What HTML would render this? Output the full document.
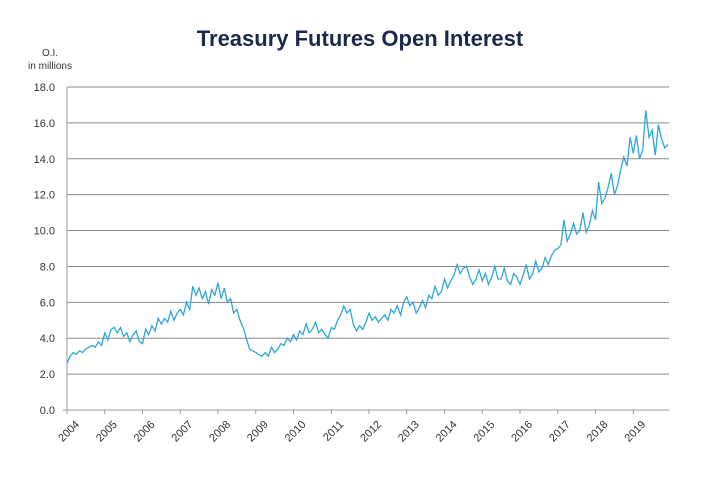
<!DOCTYPE html>
<html><head><meta charset="utf-8"><style>
body{margin:0;background:#fff;font-family:"Liberation Sans",sans-serif}
svg{display:block}
</style></head><body>
<svg id="chart" width="720" height="500">
<text x="360" y="46" text-anchor="middle" font-size="22" font-weight="bold" fill="#1b2a4a">Treasury Futures Open Interest</text>
<text x="50" y="56" text-anchor="middle" font-size="10" fill="#333">O.I.</text>
<text x="50" y="69" text-anchor="middle" font-size="10" fill="#333">in millions</text>
<g id="grid"></g><g id="xax"></g>
<path id="line" fill="none" stroke="#2ea6d8" stroke-width="1.3"/>
</svg>
<script>
const yTicks=[0,2,4,6,8,10,12,14,16,18];
const years=["2004","2005","2006","2007","2008","2009","2010","2011","2012","2013","2014","2015","2016","2017","2018","2019"];
const values=[
2.6,3.0,3.2,3.1,3.3,3.2,3.4,3.5,3.6,3.5,3.8,3.6,
4.3,3.9,4.5,4.6,4.3,4.6,4.1,4.3,3.8,4.2,4.4,3.8,
3.7,4.5,4.2,4.7,4.4,5.1,4.8,5.1,4.9,5.5,5.0,5.4,
5.6,5.3,6.0,5.6,6.9,6.4,6.8,6.2,6.6,5.9,6.7,6.4,
7.1,6.2,6.8,6.0,6.2,5.4,5.6,5.0,4.6,4.0,3.4,3.3,
3.2,3.1,3.0,3.2,3.0,3.5,3.2,3.4,3.7,3.6,4.0,3.8,
4.2,3.9,4.4,4.2,4.8,4.3,4.5,4.9,4.3,4.5,4.2,4.0,
4.6,4.5,5.0,5.3,5.8,5.4,5.6,4.8,4.4,4.7,4.5,4.9,
5.4,5.0,5.2,4.9,5.1,5.3,5.0,5.6,5.4,5.8,5.3,6.0,
6.3,5.8,6.0,5.4,5.7,6.1,5.7,6.4,6.2,6.9,6.4,6.6,
7.3,6.8,7.2,7.5,8.1,7.6,7.9,8.0,7.4,7.0,7.3,7.8,
7.2,7.6,7.0,7.4,8.0,7.3,7.3,7.9,7.2,7.0,7.6,7.4,
7.0,7.5,8.1,7.3,7.6,8.3,7.7,7.9,8.5,8.1,8.6,8.9,
9.0,9.2,10.6,9.4,9.8,10.4,9.8,10.0,11.0,9.9,10.3,11.1,
10.6,12.7,11.5,11.8,12.4,13.2,12.0,12.5,13.4,14.1,13.6,15.2,
14.3,15.3,14.0,14.5,16.7,15.2,15.6,14.2,15.9,15.1,14.6,14.8];
const NS="http://www.w3.org/2000/svg";
const X0=67,X1=669,Y0=410,Y1=87,yearW=37.75;
const xs=m=>X0+m/12*yearW;
const ys=v=>Y0-(v/18)*(Y0-Y1);
const grid=document.getElementById('grid'),xax=document.getElementById('xax');
function mk(t,a,p){const e=document.createElementNS(NS,t);for(const k in a)e.setAttribute(k,a[k]);p.appendChild(e);return e;}
yTicks.forEach(t=>{
 const l=mk('line',{x1:t===0?X0-4:X0,x2:X1,y1:ys(t),y2:ys(t),stroke:t===0?'#999':'#8a8a8a','stroke-width':1},grid);
 
 
 const tx=mk('text',{x:55,y:ys(t)+4,'text-anchor':'end','font-size':11,fill:'#333'},grid);
 tx.textContent=t.toFixed(1);
 
 
});
const ax=mk('line',{x1:X0,x2:X0,y1:Y1,y2:Y0,stroke:'#999'},xax);


years.forEach((y,i)=>{
 const x=xs(i*12);
 const tk=mk('line',{x1:x,x2:x,y1:Y0,y2:Y0+4,stroke:'#999'},xax);
 
 
 const ax2=x+13,ay=Y0+15;
 const tx=mk('text',{x:ax2,y:ay,'text-anchor':'end','font-size':11,fill:'#333',transform:`rotate(-45 ${ax2} ${ay})`},xax);
 tx.textContent=y;
 
 
});
document.getElementById('line').setAttribute('d',values.map((v,i)=>(i?'L':'M')+xs(i).toFixed(1)+' '+ys(v).toFixed(1)).join(''));
</script>
</body></html>
